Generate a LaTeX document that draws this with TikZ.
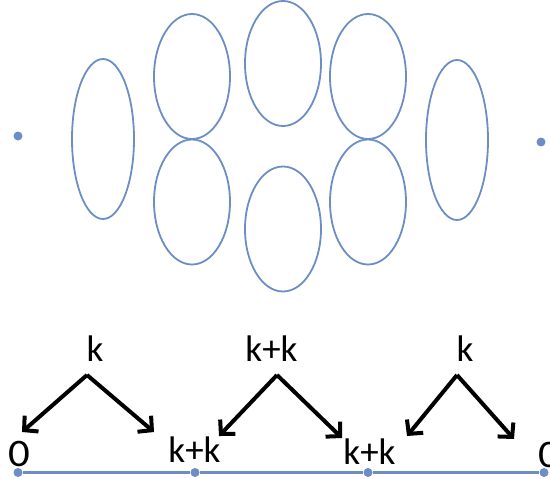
\documentclass[tikz,border=0pt]{standalone}
\usepackage{fontspec}
\setmainfont{Carlito}
\usetikzlibrary{shapes.geometric,arrows.meta}
\definecolor{ebl}{RGB}{108,142,196}
\begin{document}
\begin{tikzpicture}[x=1pt,y=-1pt,
  blob/.style={ellipse,draw=ebl,line width=1.8pt,inner sep=0pt},
  tall/.style={blob,minimum width=62pt,minimum height=160pt},
  round/.style={blob,minimum width=76pt,minimum height=125pt},
  pt/.style={circle,fill=ebl,inner sep=0pt,minimum size=9pt},
  lab/.style={font=\fontsize{37}{40}\selectfont,inner sep=0pt,anchor=center},
  zlab/.style={font=\fontsize{39}{42}\selectfont,inner sep=0pt,anchor=center,xscale=1.1},
  arr/.style={line width=4pt,-{Straight Barb[length=10pt,width=21pt,line width=4pt]}}
]
\useasboundingbox (0,0) rectangle (550,479);
% top part
\node[pt] (dl) at (18,136) {};
\node[pt] (dr) at (541,142) {};
\node[tall] (e1) at (103,139) {};
\node[round] (e2) at (192,76.5) {};
\node[round] (e3) at (192,202) {};
\node[round] (e4) at (283,63.5) {};
\node[round] (e5) at (283,229) {};
\node[round] (e6) at (368,76.5) {};
\node[round] (e7) at (368,202) {};
\node[tall] (e8) at (457,140) {};
% bottom part
\node[pt] (p1) at (18,472.5) {};
\node[pt] (p2) at (195,472.5) {};
\node[pt] (p3) at (368,472.5) {};
\node[pt] (p4) at (544,472.5) {};
\draw[ebl,line width=3.5pt] (p1) -- (p2) -- (p3) -- (p4);
\node[lab] (t1) at (95,348.5) {k};
\node[lab] (t2) at (271.5,348.5) {k+k};
\node[lab] (t3) at (465,348.5) {k};
\node[zlab] (z1) at (19.5,454) {0};
\node[lab] (b1) at (194.5,450) {k+k};
\node[lab] (b2) at (369.5,452) {k+k};
\node[zlab] (z2) at (549,455) {0};
\coordinate (a1) at (87,375);
\coordinate (a2) at (277,375);
\coordinate (a3) at (457,375);
\coordinate (h1) at (22,432);
\coordinate (h2) at (154,432);
\coordinate (h3) at (219,436);
\coordinate (h4) at (342,438);
\coordinate (h5) at (407,436);
\coordinate (h6) at (514,439);
\draw[arr] (a1) -- (h1);
\draw[arr] (a1) -- (h2);
\draw[arr] (a2) -- (h3);
\draw[arr] (a2) -- (h4);
\draw[arr] (a3) -- (h5);
\draw[arr] (a3) -- (h6);
\end{tikzpicture}
\end{document}
